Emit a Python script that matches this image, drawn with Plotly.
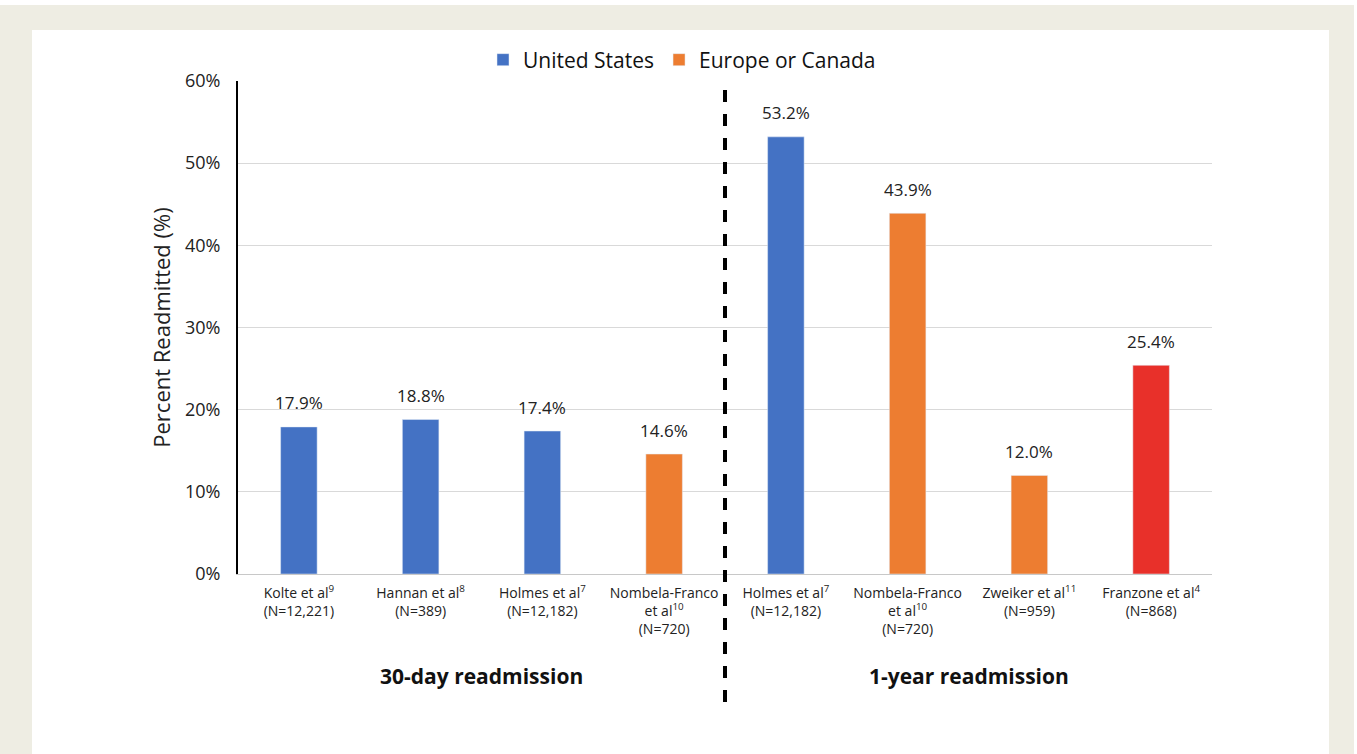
import plotly.graph_objects as go

authors = ["Kolte et al<sup>9</sup><br>(N=12,221)",
           "Hannan et al<sup>8</sup><br>(N=389)",
           "Holmes et al<sup>7</sup><br>(N=12,182)",
           "Nombela-Franco<br>et al<sup>10</sup><br>(N=720)",
           "Holmes et al<sup>7</sup><br>(N=12,182)",
           "Nombela-Franco<br>et al<sup>10</sup><br>(N=720)",
           "Zweiker et al<sup>11</sup><br>(N=959)",
           "Franzone et al<sup>4</sup><br>(N=868)"]
values = [17.9, 18.8, 17.4, 14.6, 53.2, 43.9, 12.0, 25.4]
region = ["US", "US", "US", "EU", "US", "EU", "EU", "RED"]
groups = ["30-day readmission", "1-year readmission"]

W, H = 1357, 754
L, R, T, B = 238, 1212, 81, 574
pw, ph = R - L, B - T

def px(x):
    return (x - L) / pw

def py(y):
    return (B - y) / ph

colors = {"US": "#4472C4", "EU": "#ED7D31", "RED": "#E8302A"}
names = {"US": "United States", "EU": "Europe or Canada", "RED": "Other"}

fig = go.Figure()
idx = list(range(len(values)))
for key in ["US", "EU", "RED"]:
    xs = [i for i in idx if region[i] == key]
    ys = [values[i] for i in idx if region[i] == key]
    fig.add_trace(go.Bar(
        x=xs, y=ys, name=names[key], marker_color=colors[key],
        width=0.3, showlegend=(key != "RED"),
    ))

xmin, xmax = -0.5, len(values) - 0.5
div_x = (3.5 - xmin) / (xmax - xmin)

shapes = [
    dict(type="rect", xref="paper", yref="paper", x0=px(0), x1=px(1354), y0=py(5), y1=py(760),
         fillcolor="#EEEDE3", line_width=0, layer="below"),
    dict(type="rect", xref="paper", yref="paper", x0=px(32), x1=px(1329), y0=py(30), y1=py(760),
         fillcolor="white", line_width=0, layer="below"),
    dict(type="line", xref="paper", yref="paper", x0=div_x, x1=div_x, y0=py(90), y1=py(702),
         line=dict(color="black", width=4, dash="dash")),
]

annotations = [
    dict(text=f"<b>{groups[0]}</b>", x=(1.5 - xmin) / (xmax - xmin), y=py(676), xref="paper", yref="paper",
         showarrow=False, font=dict(size=21, color="#111"), xanchor="center", yanchor="middle"),
    dict(text=f"<b>{groups[1]}</b>", x=(5.5 - xmin) / (xmax - xmin), y=py(676), xref="paper", yref="paper",
         showarrow=False, font=dict(size=21, color="#111"), xanchor="center", yanchor="middle"),
]
for i, v in zip(idx, values):
    annotations.append(dict(text=f"{v:.1f}%", x=i, y=v, xref="x", yref="y", showarrow=False,
                            xanchor="center", yanchor="middle", yshift=24,
                            font=dict(size=17, color="#222")))

fig.update_layout(
    width=W, height=H, autosize=False,
    margin=dict(l=L, r=W - R, t=T, b=H - B, pad=0),
    paper_bgcolor="white", plot_bgcolor="rgba(0,0,0,0)",
    font=dict(family="Open Sans", color="#222"),
    barmode="overlay",
    shapes=shapes, annotations=annotations,
    legend=dict(orientation="h", x=px(682), y=py(60), xanchor="center", yanchor="middle",
                font=dict(size=21, color="#111"), bgcolor="rgba(0,0,0,0)", itemwidth=30,
                traceorder="normal"),
    xaxis=dict(range=[xmin, xmax], tickmode="array", tickvals=idx, ticktext=authors,
               tickfont=dict(size=14, color="#222"), showgrid=False, zeroline=False,
               showline=True, linecolor="#c8c8c8", linewidth=1, ticks="",
               ticklabelstandoff=6),
    yaxis=dict(range=[0, 60], dtick=10, ticksuffix="%", tickfont=dict(size=18, color="#222"),
               showgrid=True, gridcolor="#d9d9d9", gridwidth=1, zeroline=False,
               showline=True, linecolor="black", linewidth=2, ticks="",
               ticklabelstandoff=12,
               title=dict(text="Percent Readmitted (%)", font=dict(size=22, color="#222"), standoff=8)),
)

fig.write_html("out.html")
